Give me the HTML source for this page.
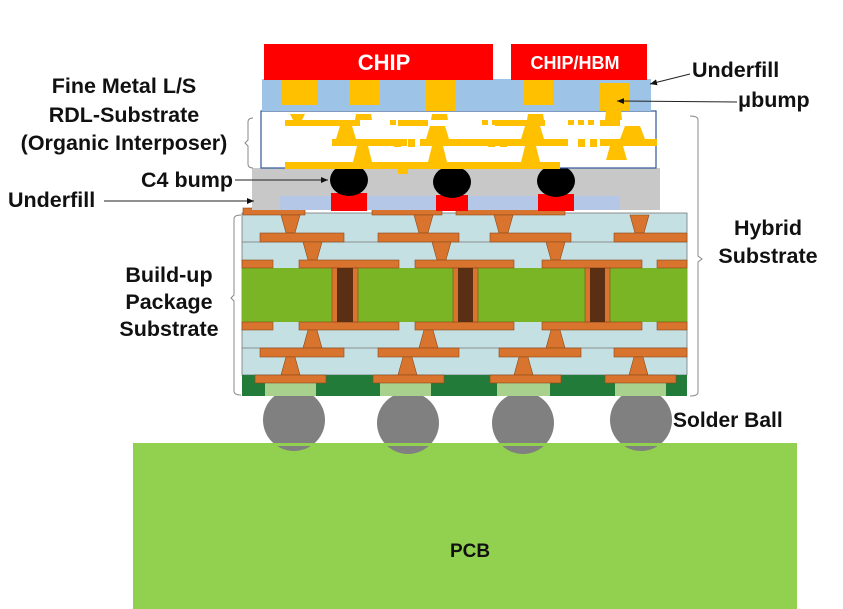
<!DOCTYPE html>
<html><head><meta charset="utf-8"><style>
html,body{margin:0;padding:0;background:#fff}
svg{display:block}
text{font-family:"Liberation Sans",Arial,sans-serif;font-weight:bold;fill:#111}
</style></head><body>
<svg width="843" height="609" viewBox="0 0 843 609" xmlns="http://www.w3.org/2000/svg">
<defs><marker id="ar" markerWidth="8" markerHeight="8" refX="7" refY="4" orient="auto"><path d="M0,1 L7,4 L0,7 z" fill="#111"/></marker></defs>
<!-- PCB -->
<rect x="133" y="443" width="664" height="166" fill="#92d050"/>
<text x="470" y="557" font-size="19" text-anchor="middle">PCB</text>
<!-- solder balls -->
<g fill="#808080">
<circle cx="294" cy="420" r="31"/><circle cx="408" cy="423" r="31"/><circle cx="523" cy="423" r="31"/><circle cx="641" cy="420" r="31"/>
</g>
<rect x="133" y="443" width="664" height="3" fill="#92d050"/>
<!-- substrate -->
<rect x="242" y="213" width="445" height="162" fill="#c5e0e3" stroke="#777" stroke-width="0.8"/>
<line x1="242" y1="242" x2="687" y2="242" stroke="#777" stroke-width="0.8"/>
<line x1="242" y1="348" x2="687" y2="348" stroke="#777" stroke-width="0.8"/>
<rect x="242" y="268" width="445" height="54" fill="#7ab526"/>
<rect x="242" y="375" width="445" height="21" fill="#237b3a"/>
<g fill="#a9d18e">
<rect x="265" y="383" width="51" height="13"/><rect x="380" y="383" width="51" height="13"/><rect x="497" y="383" width="53" height="13"/><rect x="615" y="383" width="51" height="13"/>
</g>
<g fill="#d8742d" stroke="#8a4a1a" stroke-width="0.6">
<rect x="243" y="208" width="62" height="7"/><rect x="372" y="208" width="70" height="7"/><rect x="456" y="208" width="109" height="7"/>
<polygon points="281,215 300,215 295,233 286,233"/><polygon points="414,215 433,215 428,233 419,233"/><polygon points="494,215 513,215 508,233 499,233"/><polygon points="630,215 649,215 644,233 635,233"/>
<rect x="260" y="233" width="84" height="9"/><rect x="378" y="233" width="81" height="9"/><rect x="490" y="233" width="81" height="9"/><rect x="614" y="233" width="73" height="9"/>
<polygon points="303,242 322,242 317,260 308,260"/><polygon points="432,242 451,242 446,260 437,260"/><polygon points="546,242 565,242 560,260 551,260"/>
<rect x="242" y="260" width="31" height="8"/><rect x="299" y="260" width="100" height="8"/><rect x="415" y="260" width="99" height="8"/><rect x="542" y="260" width="100" height="8"/><rect x="657" y="260" width="30" height="8"/>
<rect x="242" y="322" width="31" height="8"/><rect x="299" y="322" width="100" height="8"/><rect x="415" y="322" width="99" height="8"/><rect x="542" y="322" width="100" height="8"/><rect x="657" y="322" width="30" height="8"/>
<polygon points="308,330 317,330 322,348 303,348"/><polygon points="424,330 433,330 438,348 419,348"/><polygon points="551,330 560,330 565,348 546,348"/>
<rect x="260" y="348" width="84" height="9"/><rect x="378" y="348" width="81" height="9"/><rect x="499" y="348" width="82" height="9"/><rect x="614" y="348" width="73" height="9"/>
<polygon points="286,357 295,357 300,375 281,375"/><polygon points="403,357 412,357 417,375 398,375"/><polygon points="519,357 528,357 533,375 514,375"/><polygon points="634,357 643,357 648,375 629,375"/>
<rect x="255" y="375" width="71" height="8"/><rect x="373" y="375" width="71" height="8"/><rect x="490" y="375" width="71" height="8"/><rect x="605" y="375" width="71" height="8"/>
<rect x="332" y="268" width="26" height="54"/><rect x="453" y="268" width="25" height="54"/><rect x="585" y="268" width="25" height="54"/>
</g>
<g fill="#5b2f14"><rect x="337" y="268" width="16" height="54"/><rect x="458" y="268" width="15" height="54"/><rect x="590" y="268" width="15" height="54"/></g>
<!-- C4 underfill -->
<rect x="252" y="168" width="408" height="42" fill="#c8c8c8"/>
<rect x="280" y="196" width="340" height="14" fill="#b4c7e7"/>
<g fill="#ff0000"><rect x="331" y="193" width="36" height="18"/><rect x="436" y="195" width="32" height="16"/><rect x="538" y="194" width="36" height="17"/></g>
<g fill="#000"><ellipse cx="349" cy="180" rx="19" ry="16"/><ellipse cx="452" cy="182" rx="19" ry="16"/><ellipse cx="556" cy="181" rx="19" ry="16"/></g>
<!-- interposer -->
<rect x="261" y="111" width="395" height="57" fill="#fff" stroke="#2f5597" stroke-width="1.2"/>
<g fill="#ffc000">
<rect x="285" y="120" width="75" height="6"/><rect x="398" y="120" width="30" height="6"/><rect x="495" y="120" width="50" height="6"/><rect x="600" y="120" width="20" height="6"/>
<polygon points="290,114 305,114 302,120 293,120"/><polygon points="356,114 371,114 372,120 355,120"/><polygon points="432,114 447,114 448,120 431,120"/><polygon points="528,114 543,114 544,120 527,120"/><polygon points="606,111 621,111 622,120 605,120"/>
<polygon points="340,126 352,126 356,139 336,139"/><polygon points="430,126 445,126 449,139 426,139"/><polygon points="525,126 540,126 544,139 521,139"/><polygon points="625,126 640,126 645,139 620,139"/>
<rect x="332" y="139" width="75" height="7"/><rect x="420" y="139" width="100" height="7"/><rect x="508" y="139" width="60" height="7"/><rect x="600" y="139" width="57" height="7"/>
<polygon points="357,146 368,146 372,162 353,162"/><polygon points="432,146 443,146 447,162 428,162"/><polygon points="525,146 536,146 540,162 521,162"/><polygon points="610,146 623,146 627,160 606,160"/>
<rect x="285" y="162" width="275" height="7"/><rect x="398" y="162" width="10" height="12"/>
<rect x="390" y="120" width="6" height="5"/><rect x="400" y="120" width="6" height="5"/><rect x="410" y="120" width="6" height="5"/>
<rect x="482" y="120" width="6" height="5"/><rect x="492" y="120" width="6" height="5"/><rect x="502" y="120" width="6" height="5"/>
<rect x="568" y="120" width="6" height="5"/><rect x="578" y="120" width="6" height="5"/><rect x="588" y="120" width="6" height="5"/>
<rect x="394" y="139" width="7" height="8"/><rect x="408" y="139" width="7" height="8"/><rect x="488" y="139" width="7" height="8"/><rect x="500" y="139" width="7" height="8"/><rect x="578" y="139" width="7" height="8"/><rect x="590" y="139" width="7" height="8"/>
</g>
<!-- underfill blue -->
<rect x="262" y="79" width="389" height="32" fill="#9dc3e6"/>
<g fill="#ffc000">
<rect x="282" y="79" width="35" height="26"/><rect x="350" y="80" width="30" height="25"/><rect x="425" y="80" width="30" height="31"/><rect x="523" y="80" width="30" height="25"/><rect x="599" y="83" width="30" height="28"/>
</g>
<!-- chips -->
<rect x="264" y="44" width="229" height="36" fill="#ff0000"/>
<rect x="511" y="44" width="136" height="36" fill="#ff0000"/>
<text x="384" y="70" font-size="22" text-anchor="middle" style="fill:#fff">CHIP</text>
<text x="575" y="69" font-size="18" text-anchor="middle" style="fill:#fff">CHIP/HBM</text>
<!-- labels -->
<g font-size="21.5" text-anchor="middle">
<text x="124" y="93">Fine Metal L/S</text>
<text x="124" y="122">RDL-Substrate</text>
<text x="124" y="150">(Organic Interposer)</text>
<text x="169" y="282">Build-up</text>
<text x="169" y="309">Package</text>
<text x="169" y="336">Substrate</text>
<text x="768" y="235">Hybrid</text>
<text x="768" y="263">Substrate</text>
</g>
<text x="233" y="187" font-size="21.5" text-anchor="end">C4 bump</text>
<text x="8" y="207" font-size="21.5">Underfill</text>
<text x="692" y="77" font-size="21.5">Underfill</text>
<text x="738" y="107" font-size="21.5">μbump</text>
<text x="673" y="427" font-size="21">Solder Ball</text>
<!-- leader lines -->
<g stroke="#222" stroke-width="1" fill="none">
<line x1="235" y1="180" x2="328" y2="180" marker-end="url(#ar)"/>
<line x1="104" y1="201" x2="254" y2="201" marker-end="url(#ar)"/>
<line x1="690" y1="74" x2="650" y2="84" marker-end="url(#ar)"/>
<line x1="737" y1="102" x2="617" y2="101" marker-end="url(#ar)"/>
<path d="M253,118 q-5,0 -5,4 v18 l-3,3 l3,3 v18 q0,4 5,4" stroke="#888"/>
<path d="M241,215 q-7,0 -7,4 v76 l-3,3 l3,3 v90 q0,4 7,4" stroke="#888"/>
<path d="M690,116 q8,0 8,4 v136 l4,3 l-4,3 v130 q0,4 -8,4" stroke="#888"/>
</g>
</svg>
</body></html>
